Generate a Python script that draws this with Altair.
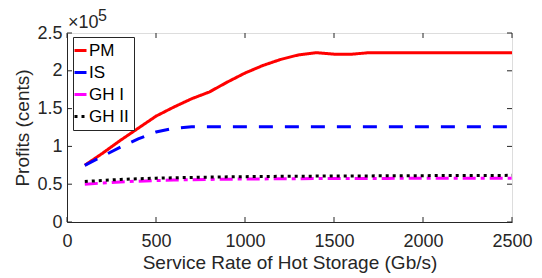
import altair as alt
import pandas as pd

rates = [100, 200, 300, 400, 500, 600, 700, 800, 900, 1000, 1100, 1200, 1300,
         1400, 1500, 1600, 1700, 1800, 1900, 2000, 2100, 2200, 2300, 2400, 2500]
pm = [0.75, 0.91, 1.08, 1.24, 1.40, 1.52, 1.63, 1.72, 1.85, 1.97, 2.07, 2.15, 2.21,
      2.24, 2.22, 2.22, 2.24, 2.24, 2.24, 2.24, 2.24, 2.24, 2.24, 2.24, 2.24]
is_ = [0.75, 0.87, 0.99, 1.10, 1.19, 1.24, 1.26, 1.26, 1.26, 1.26, 1.26, 1.26, 1.26,
       1.26, 1.26, 1.26, 1.26, 1.26, 1.26, 1.26, 1.26, 1.26, 1.26, 1.26, 1.26]
gh1 = [0.50, 0.515, 0.53, 0.54, 0.548, 0.555, 0.56, 0.563, 0.566, 0.568, 0.57, 0.572,
       0.573, 0.574, 0.575, 0.576, 0.577, 0.577, 0.578, 0.578, 0.579, 0.579, 0.58, 0.58, 0.58]
gh2 = [0.535, 0.55, 0.563, 0.572, 0.58, 0.585, 0.59, 0.594, 0.597, 0.60, 0.602, 0.604,
       0.606, 0.607, 0.608, 0.609, 0.61, 0.611, 0.612, 0.613, 0.614, 0.615, 0.615, 0.616, 0.617]

series_names = ["PM", "IS", "GH I", "GH II"]
series_colors = ["#ff0000", "#0000ff", "#ff00ff", "#000000"]
series_dashes = [[1, 0], [14, 12], [13, 5, 4, 5], [3, 4]]

x_ticks = [0, 500, 1000, 1500, 2000, 2500]
y_ticks = [0, 0.5, 1, 1.5, 2, 2.5]

rows = []
for name, vals in zip(series_names, [pm, is_, gh1, gh2]):
    for r, v in zip(rates, vals):
        rows.append({"rate": r, "profit": v, "series": name})
df = pd.DataFrame(rows)

W, H = 445, 189
FONT = "Liberation Sans"
AX = "#262626"

xscale = alt.Scale(domain=[0, 2500], nice=False)
yscale = alt.Scale(domain=[0, 2.5], nice=False)

x_axis = alt.Axis(values=x_ticks, format="d", ticks=False, labelFlush=False,
                  labelOverlap=False,
                  labelFontSize=18, labelFont=FONT, labelColor=AX,
                  labelPadding=10, title="Service Rate of Hot Storage (Gb/s)",
                  titleFont=FONT, titleFontSize=19, titleFontWeight="normal",
                  titleColor=AX, titlePadding=3, domainColor=AX, grid=False)
y_axis = alt.Axis(values=y_ticks, format="~g", ticks=False, labelFlush=False,
                  labelOverlap=False,
                  labelFontSize=18, labelFont=FONT, labelColor=AX,
                  labelPadding=5, title="Profits (cents)",
                  titleFont=FONT, titleFontSize=19, titleFontWeight="normal",
                  titleColor=AX, titlePadding=4, domainColor=AX, grid=False)

legend = alt.Legend(orient="none", legendX=6, legendY=4, strokeColor=AX,
                    fillColor="white", padding=5, symbolType="stroke",
                    symbolSize=144, symbolStrokeWidth=3, labelFontSize=17,
                    labelFont=FONT, labelColor="black", rowPadding=4,
                    labelOffset=0, symbolOffset=-6, title=None)

lines = alt.Chart(df).mark_line(strokeWidth=3).encode(
    x=alt.X("rate:Q", scale=xscale, axis=x_axis),
    y=alt.Y("profit:Q", scale=yscale, axis=y_axis),
    color=alt.Color("series:N", scale=alt.Scale(domain=series_names, range=series_colors),
                    legend=legend),
    strokeDash=alt.StrokeDash("series:N", scale=alt.Scale(domain=series_names, range=series_dashes),
                              legend=legend),
)

xt = pd.DataFrame({"v": x_ticks})
yt = pd.DataFrame({"v": y_ticks})
tick_len = 5
xb = alt.Chart(xt).mark_rule(color=AX, strokeWidth=1).encode(
    x=alt.X("v:Q", scale=xscale, axis=x_axis), y=alt.value(H), y2=alt.value(H - tick_len))
xtop = alt.Chart(xt).mark_rule(color=AX, strokeWidth=1).encode(
    x=alt.X("v:Q", scale=xscale, axis=x_axis), y=alt.value(0), y2=alt.value(tick_len))
yl = alt.Chart(yt).mark_rule(color=AX, strokeWidth=1).encode(
    y=alt.Y("v:Q", scale=yscale, axis=y_axis), x=alt.value(0), x2=alt.value(tick_len))
yr = alt.Chart(yt).mark_rule(color=AX, strokeWidth=1).encode(
    y=alt.Y("v:Q", scale=yscale, axis=y_axis), x=alt.value(W), x2=alt.value(W - tick_len))

mult = alt.Chart(pd.DataFrame({"t": ["×10"]})).mark_text(
    align="left", baseline="alphabetic", font=FONT, fontSize=18, color=AX).encode(
    text="t:N", x=alt.value(1), y=alt.value(-5))
expo = alt.Chart(pd.DataFrame({"t": ["5"]})).mark_text(
    align="left", baseline="alphabetic", font=FONT, fontSize=16, color=AX).encode(
    text="t:N", x=alt.value(31), y=alt.value(-12))

chart = alt.layer(lines, xb, xtop, yl, yr, mult, expo).properties(
    width=W, height=H,
    autosize=alt.AutoSizeParams(type="none"),
    padding={"left": 59, "top": 25, "right": 22, "bottom": 56},
).configure_view(stroke=AX, strokeWidth=1).configure(background="white")

chart.save("out.html", embed_options={"renderer": "svg", "actions": False})
